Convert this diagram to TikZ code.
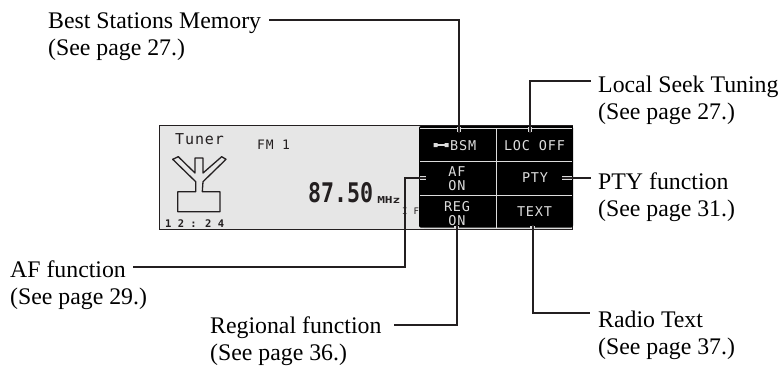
\documentclass[tikz,border=0pt]{standalone}
\usepackage{fontspec}
\setmainfont{Liberation Serif}
\newfontfamily\lcd[LetterSpace=6]{DejaVu Sans Mono}
\newfontfamily\lcdb[LetterSpace=0]{DejaVu Sans Mono Bold}
\definecolor{panel}{HTML}{E6E6E6}
\definecolor{ink}{HTML}{231F20}
\definecolor{keytext}{HTML}{DCDCDC}
\tikzset{
  x=1pt,y=-1pt,
  lab/.style={font=\fontsize{23.8}{27}\selectfont,align=left,anchor=base west,inner sep=0pt,text=black},
  lead/.style={draw=ink,line width=2pt},
  halo/.style={draw=keytext,line width=4.2pt},
  key/.style={font=\lcd\fontsize{13.5}{14}\selectfont,text=keytext,align=center,inner sep=0pt},
  disp/.style={font=\lcd\fontsize{14.5}{15}\selectfont,inner sep=0pt,anchor=west,text=ink},
  gridline/.style={draw=keytext,line width=1pt}
}
\begin{document}
\begin{tikzpicture}
\useasboundingbox (0,0) rectangle (783,365);
\fill[white] (0,0) rectangle (783,365);
\draw[fill=panel,line width=1.2pt,draw=ink] (159.5,125.8) rectangle (572.5,229.5);
\fill[black,rounded corners=2pt] (419,126) rectangle (573,227.6);
\fill[black] (480,126) rectangle (573,140);
\draw[gridline] (496,128)--(496,228) (420,161.5)--(571.5,161.5) (420,195)--(571.5,195);
\draw[keytext,line width=.7pt] (420,128)--(571.5,128) (424,228.3)--(572,228.3);
\draw[keytext,line width=1.6pt] (434,145)--(448,145);
\fill[keytext] (433.5,143) rectangle (437.5,147) (444.5,143) rectangle (448.5,147);
\node[key,anchor=west] (bsm) at (450,145.5) {BSM};
\node[key] (loc) at (534.5,145.5) {LOC OFF};
\node[key] (af) at (457,179) {AF\\ON};
\node[key] (pty) at (535,178) {PTY};
\node[key] (reg) at (457,213.5) {REG\\ON};
\node[key] (text) at (534.5,212) {TEXT};
\node[disp,font=\lcd\fontsize{15}{15}\selectfont] (tuner) at (175,139) {Tuner};
\node[disp,font=\lcd\fontsize{13}{15}\selectfont] (fm) at (257,145) {FM 1};
\node[disp,font=\lcdb\fontsize{27}{27}\selectfont,xscale=.8,transform shape] (freq) at (308,193) {87.50};
\node[disp,font=\lcdb\fontsize{9.5}{10}\selectfont,xscale=1.35,transform shape] (mhz) at (377,200) {MHz};
\node[disp,font=\lcd\fontsize{9}{9}\selectfont] (if) at (402,211) {I F};
\node[disp,font=\lcdb\fontsize{10.5}{11}\selectfont] (clock) at (165,223.5) {1 2 : 2 4};
\draw[line width=1.3pt,line join=round,draw=ink]
 (177.7,191.7) -- (195.7,191.7) -- (195.7,181.7) -- (172.7,159.3) -- (178.3,156.7) -- (195,173) -- (195,158) -- (203,158) -- (203,173)
 -- (221.7,156.7) -- (226,159.3) -- (203,181.7) -- (202.3,191.7) -- (220,191.7) -- (220,211.7) -- (177.7,211.7) -- cycle;
\node[lab] (l1) at (48,55) {Best Stations Memory\\(See page 27.)};
\node[lab] (l2) at (598,119) {Local Seek Tuning\\(See page 27.)};
\node[lab] (l3) at (598,216) {PTY function\\(See page 31.)};
\node[lab] (l4) at (10,304) {AF function\\(See page 29.)};
\node[lab] (l5) at (210,360) {Regional function\\(See page 36.)};
\node[lab] (l6) at (598,354) {Radio Text\\(See page 37.)};
\coordinate (a1) at (269,20); \coordinate (a2) at (459,20); \coordinate (a3) at (459,132);
\coordinate (b1) at (530,132); \coordinate (b2) at (530,80.7); \coordinate (b3) at (590.7,80.7);
\coordinate (c1) at (562,177.7); \coordinate (c2) at (590.7,177.7);
\coordinate (d1) at (133,267); \coordinate (d2) at (405,267); \coordinate (d3) at (405,178); \coordinate (d4) at (426,178);
\coordinate (e1) at (394,324.5); \coordinate (e2) at (456.5,324.5); \coordinate (e3) at (456.5,226);
\coordinate (f1) at (532.5,226); \coordinate (f2) at (532.5,313); \coordinate (f3) at (590,313);
\draw[halo] (459,126.5)--(a3) (530,126.5)--(b1) (c1)--(572,177.7) (419.5,178)--(d4) (456.5,229)--(e3) (532.5,229)--(f1);
\draw[lead,line cap=rect] (a2)--(a3) (b2)--(b1) (d2)--(d3) (e2)--(e3) (f2)--(f1);
\draw[lead] (a1)--(a2)--(a3);
\draw[lead] (b1)--(b2)--(b3);
\draw[lead] (c1)--(c2);
\draw[lead] (d1)--(d2)--(d3)--(d4);
\draw[lead] (e1)--(e2)--(e3);
\draw[lead] (f1)--(f2)--(f3);
\end{tikzpicture}
\end{document}
